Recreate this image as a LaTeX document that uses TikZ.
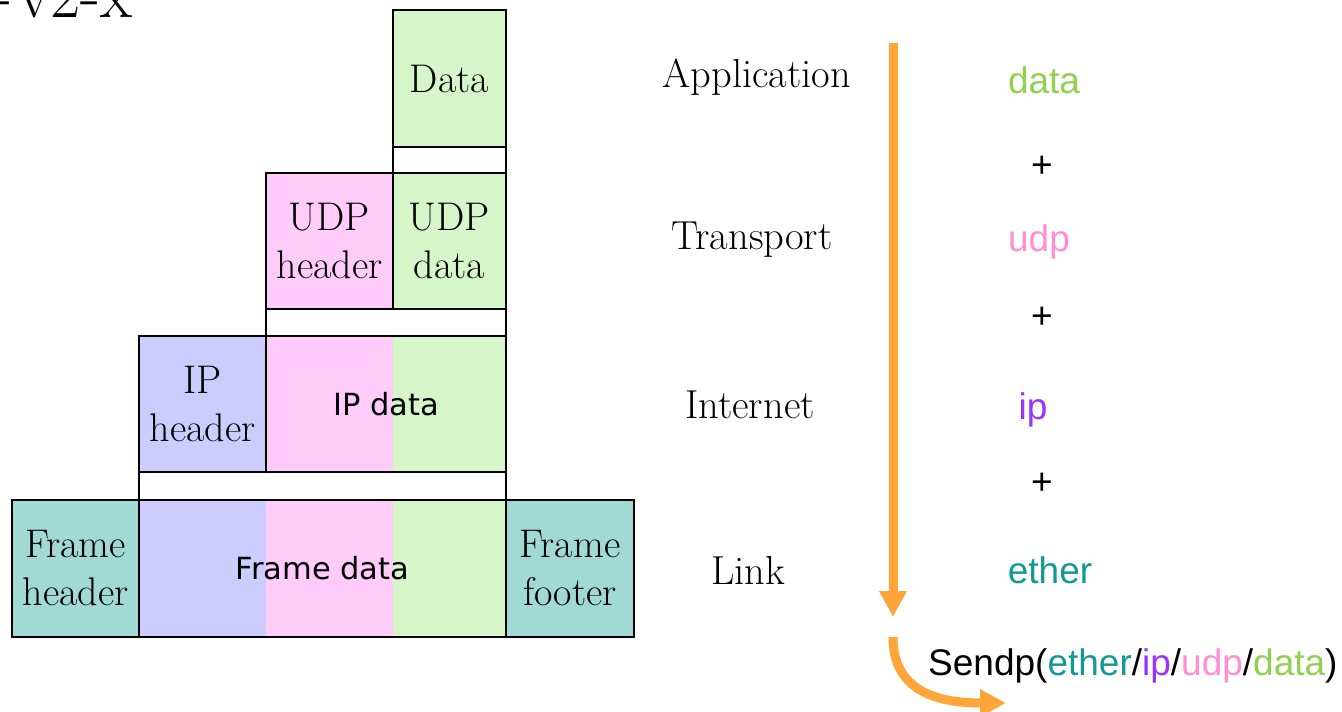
\documentclass[tikz,border=0pt]{standalone}
\usepackage{fontspec}
\newfontfamily\dvsans{DejaVu Sans}
\newfontfamily\lsans{Liberation Sans}
\usetikzlibrary{arrows.meta}

\definecolor{appgreen}{HTML}{D6F5C9}
\definecolor{udppink}{HTML}{FFCCFA}
\definecolor{iplav}{HTML}{CCCCFF}
\definecolor{frteal}{HTML}{A1D9D4}
\definecolor{floworange}{HTML}{FFA53A}
\definecolor{txtgreen}{HTML}{92D050}
\definecolor{txtpink}{HTML}{FF8ED4}
\definecolor{txtpurple}{HTML}{9933FF}
\definecolor{txtteal}{HTML}{149893}

\begin{document}
\begin{tikzpicture}[x=1pt,y=-1pt,
  cell/.style={draw=black, line width=2.6pt, inner sep=0pt, outer sep=0pt,
    align=center, font=\fontsize{40}{48}\selectfont},
  gapcell/.style={draw=black, line width=2.6pt, inner sep=0pt, outer sep=0pt, fill=white},
  sanslabel/.style={font=\dvsans\fontsize{30.5}{36}\selectfont, inner sep=0pt},
  layer/.style={font=\fontsize{40.5}{48}\selectfont, inner sep=0pt},
  word/.style={font=\lsans\fontsize{37}{44}\selectfont, inner sep=0pt},
  flow/.style={draw=floworange, line width=9pt,
    -{Triangle[width=26pt,length=26pt,fill=floworange]}},
]
\useasboundingbox (0,0) rectangle (1342,712);

% heading, cut off at the top edge
\node[anchor=base west, inner sep=0pt, font=\fontsize{66}{66}\selectfont]
  (heading) at (-8,17) {-\kern6pt v2-x};

% application layer
\node[cell, fill=appgreen, minimum width=113pt, minimum height=137pt] (data) at (449.5,78.5) {Data};
\node[gapcell, minimum width=113pt, minimum height=26pt] (gapA) at (449.5,160) {};

% transport layer
\node[cell, fill=udppink, minimum width=127pt, minimum height=136pt] (udph) at (329.5,241) {UDP\\header};
\node[cell, fill=appgreen, minimum width=113pt, minimum height=136pt] (udpd) at (449.5,241) {UDP\\data};
\node[gapcell, minimum width=240pt, minimum height=27pt] (gapT) at (386,322.5) {};

% internet layer
\node[cell, fill=iplav, minimum width=127pt, minimum height=136pt] (iph) at (202.5,404) {IP\\header};
\fill[udppink] (266,336) rectangle (393,472);
\fill[appgreen] (393,336) rectangle (506,472);
\node[cell, minimum width=240pt, minimum height=136pt] (ipd) at (386,404) {};
\node[sanslabel] (ipdlabel) at (ipd.center) {IP data};
\node[gapcell, minimum width=367pt, minimum height=28pt] (gapI) at (322.5,486) {};

% link layer
\node[cell, fill=frteal, minimum width=127pt, minimum height=137pt] (frh) at (75.5,568.5) {Frame\\header};
\fill[iplav] (139,500) rectangle (266,637);
\fill[udppink] (266,500) rectangle (393,637);
\fill[appgreen] (393,500) rectangle (506,637);
\node[cell, minimum width=367pt, minimum height=137pt] (frd) at (322.5,568.5) {};
\node[sanslabel] (frdlabel) at (frd.center) {Frame data};
\node[cell, fill=frteal, minimum width=128pt, minimum height=137pt] (frf) at (570,568.5) {Frame\\footer};

% layer names
\node[layer] (lapp) at (757,77) {Application};
\node[layer] (ltrans) at (752,240) {Transport};
\node[layer] (linet) at (750,405) {Internet};
\node[layer] (llink) at (748,570) {Link};

% encapsulation flow
\coordinate (flowtop) at (893,43);
\coordinate (flowbot) at (893,617);
\draw[flow] (flowtop) -- (flowbot);
\coordinate (sendstart) at (893,637);
\coordinate (sendend) at (1006,703);
\draw[flow] (sendstart) .. controls (893,690) and (935,703) .. (sendend);

% protocol stack as built up
\node[word, text=txtgreen] (wdata) at (1044,80) {data};
\node[word] (plus1) at (1042,167) {+};
\node[word, text=txtpink] (wudp) at (1039,242) {udp};
\node[word] (plus2) at (1042,318) {+};
\node[word, text=txtpurple] (wip) at (1033,410) {ip};
\node[word] (plus3) at (1042,484) {+};
\node[word, text=txtteal] (wether) at (1050,570) {ether};

\node[word, anchor=base west] (send) at (928,675)
  {Sendp(\textcolor{txtteal}{ether}/\textcolor{txtpurple}{ip}/\textcolor{txtpink}{udp}/\textcolor{txtgreen}{data})};
\end{tikzpicture}
\end{document}
